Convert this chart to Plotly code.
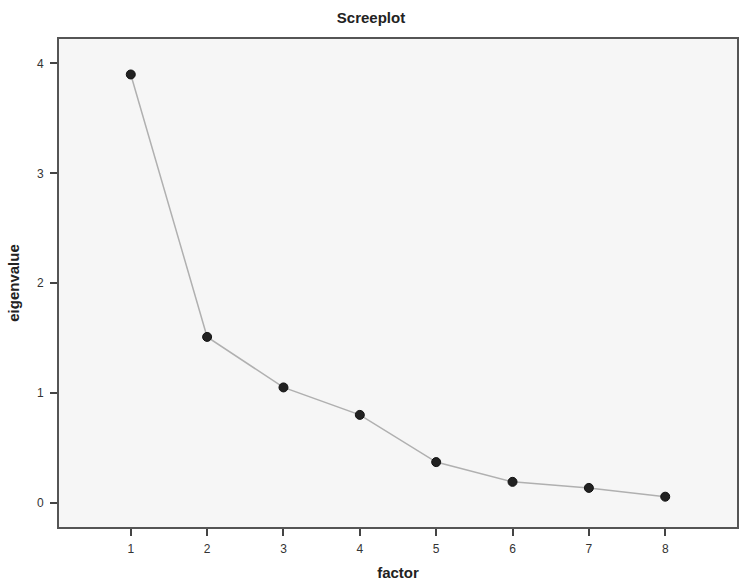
import plotly.graph_objects as go

factors = [1, 2, 3, 4, 5, 6, 7, 8]
eigenvalues = [3.90, 1.51, 1.05, 0.80, 0.37, 0.19, 0.135, 0.055]
x_ticks = [1, 2, 3, 4, 5, 6, 7, 8]
y_ticks = [0, 1, 2, 3, 4]

fig = go.Figure()
fig.add_trace(go.Scatter(
    x=factors, y=eigenvalues, mode="lines+markers",
    line=dict(color="#b0b0b0", width=1.5),
    marker=dict(color="#222222", size=9, line=dict(color="#111111", width=1)),
    showlegend=False,
))

fig.update_layout(
    width=742, height=583,
    margin=dict(l=59, r=3, t=39, b=56),
    paper_bgcolor="white", plot_bgcolor="#f6f6f6",
    font=dict(family="Liberation Sans, Arial", color="#333333", size=12),
    title=dict(text="<b>Screeplot</b>", x=0.5, xanchor="center", y=0.97, yanchor="middle",
               font=dict(size=15, color="#222222")),
)
fig.update_xaxes(
    range=[0.06, 8.94], tickvals=x_ticks, ticktext=[str(v) for v in x_ticks],
    showgrid=False, zeroline=False, showline=True, mirror=True, linecolor="#555555", linewidth=2,
    ticks="outside", ticklen=7, tickwidth=2, tickcolor="#444444", ticklabelstandoff=3,
    title=dict(text="<b>factor</b>", font=dict(size=15, color="#222222"), standoff=12),
)
fig.update_yaxes(
    range=[-0.221, 4.223], tickvals=y_ticks, ticktext=[str(v) for v in y_ticks],
    showgrid=False, zeroline=False, showline=True, mirror=True, linecolor="#555555", linewidth=2,
    ticks="outside", ticklen=7, tickwidth=2, tickcolor="#444444", ticklabelstandoff=4,
    title=dict(text="<b>eigenvalue</b>", font=dict(size=15, color="#222222"), standoff=14),
)

fig.write_html("out.html")
